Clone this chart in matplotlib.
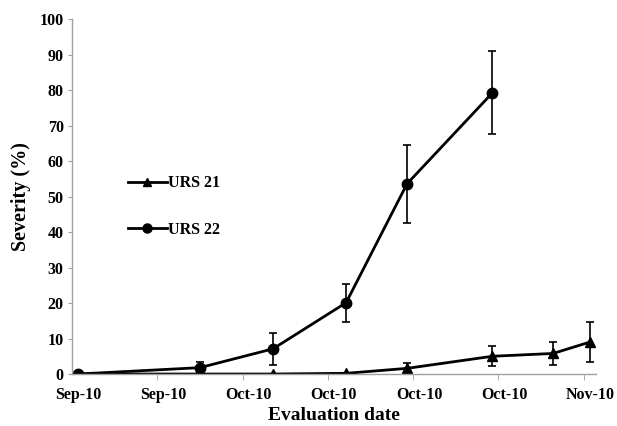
import matplotlib
matplotlib.use("Agg")
import matplotlib.pyplot as plt
from matplotlib.lines import Line2D

# tick labels (weekly date axis)
tick_days = [0, 7, 14, 21, 28, 35, 42]
tick_labels = ["Sep-10", "Sep-10", "Oct-10", "Oct-10", "Oct-10", "Oct-10", "Nov-10"]

# URS 21
days_21 = [0, 10, 16, 22, 27, 34, 39, 42]
sev_21 = [0, 0, 0, 0.2, 1.6, 5.0, 5.8, 9.0]
err_21 = [0, 0, 0, 0, 1.4, 2.8, 3.3, 5.6]

# URS 22
days_22 = [0, 10, 16, 22, 27, 34]
sev_22 = [0, 1.8, 7.1, 20.1, 53.6, 79.2]
err_22 = [0, 1.5, 4.6, 5.4, 10.9, 11.7]

plt.rcParams["font.family"] = ["Liberation Serif", "DejaVu Serif"]
plt.rcParams["font.weight"] = "bold"

fig = plt.figure(figsize=(6.17, 4.26), dpi=100)
ax = fig.add_axes([0.1167, 0.122, 0.849, 0.833])

ax.errorbar(days_21, sev_21, yerr=err_21, color="black", lw=2, marker="^",
            markersize=7.5, capsize=3, elinewidth=1.2, capthick=1.2)
ax.errorbar(days_22, sev_22, yerr=err_22, color="black", lw=2, marker="o",
            markersize=7.5, capsize=3, elinewidth=1.2, capthick=1.2)

ax.set_xlim(-0.5, 42.5)
ax.set_ylim(0, 100)
ax.set_yticks(range(0, 101, 10))
ax.set_xticks(tick_days)
ax.set_xticklabels(tick_labels)
ax.set_xticks([d - 0.5 for d in tick_days[1:]], minor=True)
ax.tick_params(axis="x", which="major", length=0, pad=9, labelsize=11.5)
ax.tick_params(axis="x", which="minor", length=4, color="#a0a0a0", direction="out")
ax.tick_params(axis="y", length=3, color="#a0a0a0", labelsize=11.5, pad=3)

for s in ["top", "right"]:
    ax.spines[s].set_visible(False)
for s in ["left", "bottom"]:
    ax.spines[s].set_color("#a0a0a0")
    ax.spines[s].set_linewidth(1)

ax.set_xlabel("Evaluation date", fontsize=14, fontweight="bold", labelpad=3)
ax.set_ylabel("Severity (%)", fontsize=14.5, fontweight="bold", labelpad=6)

handles = [Line2D([], [], color="black", lw=2, marker="^", markersize=6),
           Line2D([], [], color="black", lw=2, marker="o", markersize=6.5)]
leg = ax.legend(handles, ["URS 21", "URS 22"], loc="upper left",
                bbox_to_anchor=(0.08, 0.6), frameon=False,
                fontsize=11.5, handlelength=2.4, handletextpad=0.1,
                labelspacing=1.9)
for t in leg.get_texts():
    t.set_fontweight("bold")

fig.savefig("out.png", dpi=100)
